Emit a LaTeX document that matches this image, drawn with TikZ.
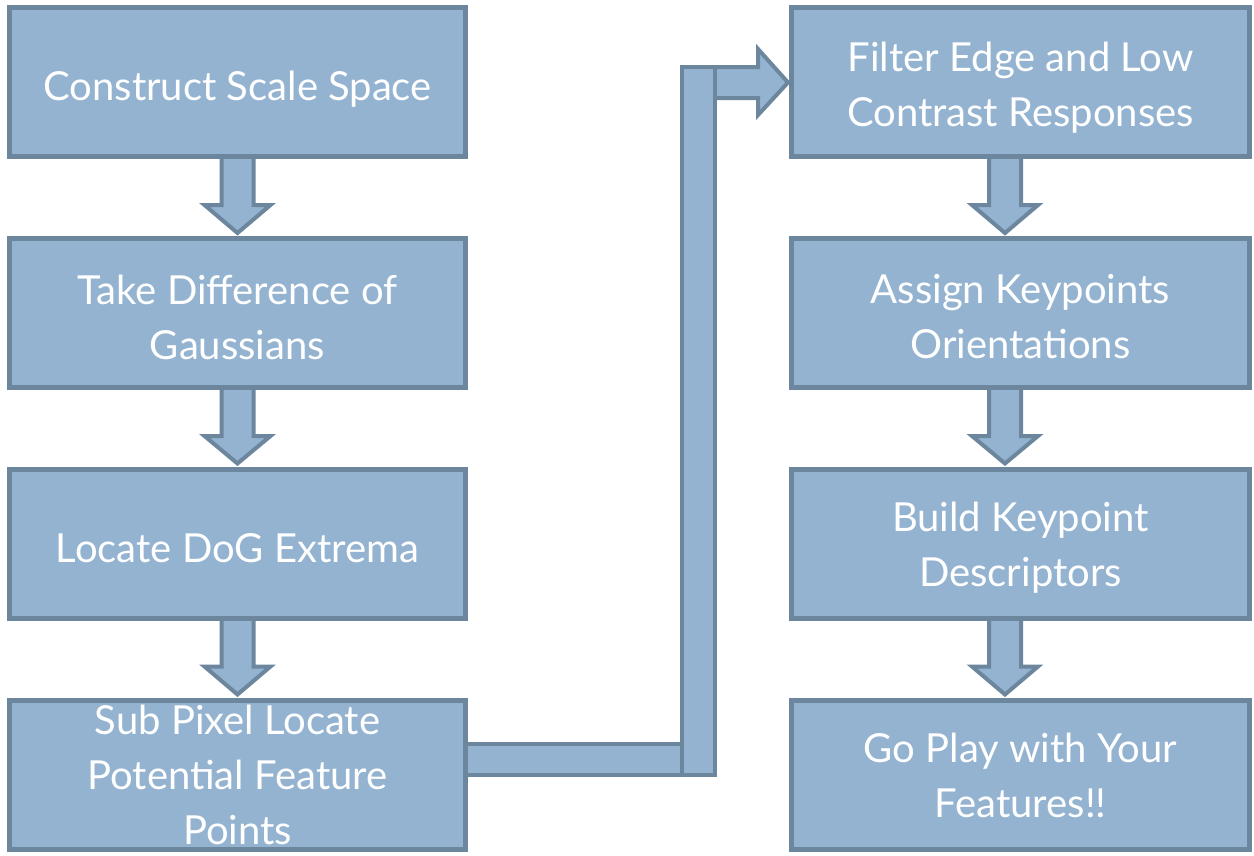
\documentclass[tikz,border=0pt]{standalone}
\usepackage{fontspec}
\setmainfont{Lato}
\usetikzlibrary{calc,backgrounds}
\definecolor{boxfill}{RGB}{147,179,209}
\definecolor{boxedge}{RGB}{108,134,157}
\newcommand\dnarrow[3]{%
  \draw[blk] ($(#1.south)+(#3-16,-6)$) -- ($(#1.south)+(#3-16,46)$) -- ($(#1.south)+(#3-33,46)$)
    -- ($(#2.north)+(#3,-3)$) -- ($(#1.south)+(#3+33,46)$) -- ($(#1.south)+(#3+16,46)$)
    -- ($(#1.south)+(#3+16,-6)$) -- cycle;}
\begin{document}
\begin{tikzpicture}[x=1pt,y=-1pt,
  box/.style={draw=boxedge, fill=boxfill, line width=5pt, minimum width=456pt, minimum height=149pt,
    inner sep=0pt},
  rbox/.style={box, minimum width=458pt},
  lbl/.style={text=white, font=\fontsize{40}{55}\selectfont, align=center, inner sep=0pt, yshift=-4pt},
  blk/.style={draw=boxedge, fill=boxfill, line width=4pt, line join=miter}]
\useasboundingbox (0,0) rectangle (1254,855);
\node[box, label={[lbl, yshift=-3pt]center:Construct Scale Space}] (n1) at (237.5,82) {};
\node[box, label={[lbl]center:Take Difference of\\Gaussians}] (n2) at (237.5,313) {};
\node[box, label={[lbl, yshift=-1pt]center:Locate DoG Extrema}] (n3) at (237.5,543.5) {};
\node[box, label={[lbl, yshift=4pt]center:Sub Pixel Locate\\Potential Feature\\Points}] (n4) at (237.5,774.5) {};
\node[rbox, label={[lbl, yshift=-2pt]center:Filter Edge and Low\\Contrast Responses}] (m1) at (1020.5,82) {};
\node[rbox, label={[lbl]center:Assign Keypoints\\Orientations}] (m2) at (1020.5,313) {};
\node[rbox, label={[lbl]center:Build Keypoint\\Descriptors}] (m3) at (1020.5,543.5) {};
\node[rbox, label={[lbl, yshift=3pt]center:Go Play with Your\\Features!!}] (m4) at (1020.5,774.5) {};
\coordinate (ebot) at (698.5,759.5);
\coordinate (etop) at (698.5,82.5);
\begin{scope}[on background layer]
  \dnarrow{n1}{n2}{0}
  \dnarrow{n2}{n3}{0}
  \dnarrow{n3}{n4}{0}
  \dnarrow{m1}{m2}{-15.5}
  \dnarrow{m2}{m3}{-15.5}
  \dnarrow{m3}{m4}{-15.5}
  % elbow connector
  \draw[blk] ($(n4.east)+(-6,-30.5)$) -- ($(ebot)+(0,-15.5)$) -- ($(ebot)+(0,15.5)$) -- ($(n4.east)+(-6,0.5)$) -- cycle;
  \draw[blk] ($(etop)+(0,-15.5)$) -- ($(etop)+(59.5,-15.5)$) -- ($(etop)+(59.5,-33.5)$)
    -- ($(m1.west)+(-1,0.5)$) -- ($(etop)+(59.5,32.5)$) -- ($(etop)+(59.5,15.5)$) -- ($(etop)+(0,15.5)$) -- cycle;
  \draw[blk] ($(etop)+(-16.5,-15.5)$) -- ($(etop)+(16.5,-15.5)$) -- ($(ebot)+(16.5,15.5)$) -- ($(ebot)+(-16.5,15.5)$) -- cycle;
\end{scope}
\end{tikzpicture}
\end{document}
